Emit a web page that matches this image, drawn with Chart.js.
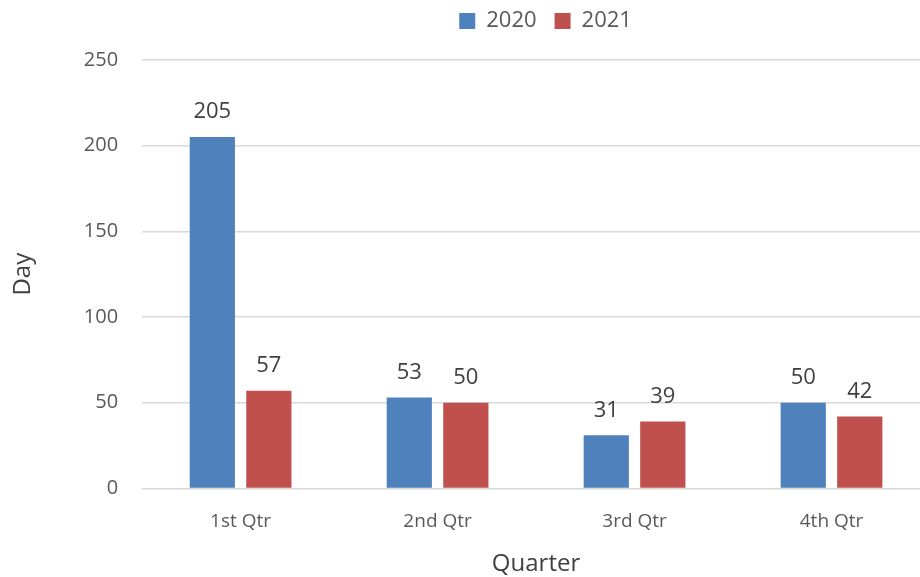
<!DOCTYPE html>
<html lang="en">
<head>
    <meta charset="UTF-8">
    <title>Days per Quarter</title>
    <script src="https://cdn.jsdelivr.net/npm/chart.js"></script>
    <style>
        body { margin: 0; background: #fff; overflow: hidden; }
        /* plot runs slightly past the right edge of the window, as in the original */
        #wrap { width: 930px; height: 577px; }
    </style>
</head>
<body>
    <div id="wrap"><canvas id="dayChart"></canvas></div>

    <script>
        // chart data
        const quarters = ['1st Qtr', '2nd Qtr', '3rd Qtr', '4th Qtr'];
        const days2020 = [205, 53, 31, 50];
        const days2021 = [57, 50, 39, 42];

        const font = '"Open Sans", sans-serif';

        // draws the value above each bar
        const valueLabels = {
            id: 'valueLabels',
            afterDatasetsDraw(chart) {
                const ctx = chart.ctx;
                ctx.save();
                ctx.font = '22px ' + font;
                ctx.fillStyle = '#404040';
                ctx.textAlign = 'center';
                ctx.textBaseline = 'bottom';
                chart.data.datasets.forEach((ds, i) => {
                    chart.getDatasetMeta(i).data.forEach((bar, j) => {
                        ctx.fillText(ds.data[j], bar.x, bar.y - 14);
                    });
                });
                ctx.restore();
            }
        };

        // more room under the legend, and centre it over the plot area
        const legendTweak = {
            id: 'legendTweak',
            beforeInit(chart) {
                const fit = chart.legend.fit;
                chart.legend.fit = function () {
                    fit.call(this);
                    this.height += 18;
                };
            },
            afterLayout(chart) {
                const lg = chart.legend;
                const dx = (chart.chartArea.left + chart.chartArea.right) / 2 - chart.width / 2 + 7;
                lg.left += dx;
                lg.right += dx;
            }
        };

        const ctx = document.getElementById('dayChart').getContext('2d');
        new Chart(ctx, {
            type: 'bar',
            data: {
                labels: quarters,
                datasets: [{
                    label: '2020',
                    data: days2020,
                    backgroundColor: '#4f81bd'
                }, {
                    label: '2021',
                    data: days2021,
                    backgroundColor: '#c0504d'
                }]
            },
            options: {
                responsive: true,
                maintainAspectRatio: false,
                animation: false,
                categoryPercentage: 0.574,
                barPercentage: 0.8,
                layout: { padding: { left: 5, right: 0, top: -8, bottom: -2 } },
                plugins: {
                    legend: {
                        position: 'top',
                        labels: {
                            boxWidth: 16,
                            boxHeight: 16,
                            color: '#595959',
                            font: { family: font, size: 22 },
                            padding: 18
                        }
                    },
                    tooltip: { enabled: false }
                },
                scales: {
                    x: {
                        grid: { display: false },
                        border: { display: false },
                        ticks: {
                            color: '#595959',
                            font: { family: font, size: 19 },
                            padding: 14
                        },
                        title: {
                            display: true,
                            text: 'Quarter',
                            color: '#404040',
                            font: { family: font, size: 24 },
                            padding: { top: 3, bottom: 0 }
                        }
                    },
                    y: {
                        min: 0,
                        max: 250,
                        ticks: {
                            stepSize: 50,
                            color: '#595959',
                            font: { family: font, size: 20 },
                            padding: 24
                        },
                        grid: { color: '#d9d9d9', lineWidth: 1.5, drawTicks: false },
                        border: { display: false },
                        title: {
                            display: true,
                            text: 'Day',
                            color: '#404040',
                            font: { family: font, size: 24 },
                            padding: { bottom: 22 }
                        }
                    }
                }
            },
            plugins: [valueLabels, legendTweak]
        });
    </script>
</body>
</html>
